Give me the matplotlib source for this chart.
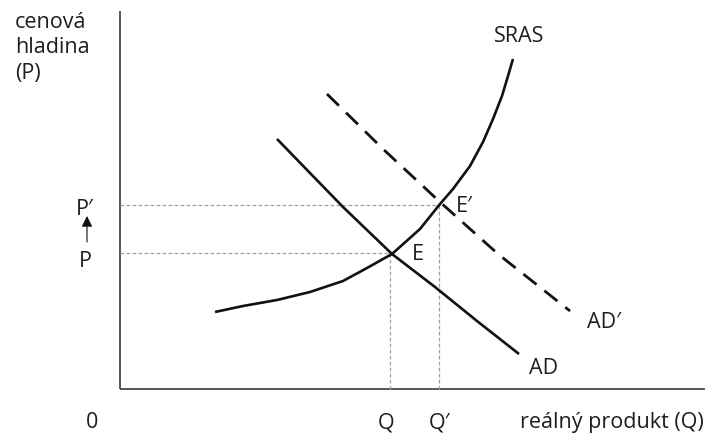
import matplotlib
matplotlib.use("Agg")
import matplotlib.pyplot as plt

plt.rcParams['font.family'] = ['Open Sans', 'DejaVu Sans']

# --- data (economic units) ---
sras_q = [9.5, 12.3, 15.7, 19.0, 22.3, 24.7, 27.2, 30.0, 32.0, 33.3, 35.0, 36.3, 37.3, 38.2, 38.8, 39.3]
sras_p = [7.7, 8.3, 8.9, 9.7, 10.8, 12.1, 13.5, 16.0, 18.5, 20.0, 22.3, 24.7, 27.0, 29.3, 31.3, 33.0]

ad_q = [15.7, 19.0, 22.3, 27.2, 31.5, 35.7, 39.9]
ad_p = [25.0, 21.6, 18.2, 13.5, 10.2, 6.8, 3.5]

ad2_q = [20.7, 26.3, 32.0, 37.8, 45.0]
ad2_p = [29.5, 24.0, 18.7, 13.5, 7.8]

eq_q = [27.0, 31.9]      # Q, Q'
eq_p = [13.6, 18.4]      # P, P'
eq_names = ['E', 'E′']
q_labels = ['Q', 'Q′']
p_labels = ['P', 'P′']

x_max, y_max = 58.5, 37.8

fig = plt.figure(figsize=(7.16, 4.39), dpi=100)
ax = fig.add_axes([0, 0, 1, 1])
ax.set_xlim(-12, 59.6)
ax.set_ylim(-4.9, 39.0)
ax.axis('off')

axc = '#3a3a3a'
ax.plot([0, 0], [0, y_max], color=axc, lw=1.2, solid_capstyle='butt')
ax.plot([0, x_max], [0, 0], color=axc, lw=1.2, solid_capstyle='butt')

guide = dict(color='#a0a0a0', lw=0.9, dashes=(3, 1.8))
for q, p in zip(eq_q, eq_p):
    ax.plot([0, q], [p, p], **guide)
    ax.plot([q, q], [0, p], **guide)

ax.plot(sras_q, sras_p, color='#111111', lw=1.9, solid_capstyle='butt', solid_joinstyle='round')
ax.plot(ad_q, ad_p, color='#111111', lw=1.9, solid_capstyle='butt', solid_joinstyle='round')
ax.plot(ad2_q, ad2_p, color='#111111', lw=2.0, dashes=(6, 3.6), dash_capstyle='butt')

fs = 15.5
tc = '#1e1e1e'
ax.text(-10.5, 37.8, 'cenová\nhladina\n(P)', ha='left', va='top', fontsize=fs,
        color=tc, linespacing=1.28)
ax.text(-2.8, -3.3, '0', ha='center', va='center', fontsize=fs, color=tc)
ax.text(eq_q[0] - 0.4, -3.3, q_labels[0], ha='center', va='center', fontsize=fs, color=tc)
ax.text(eq_q[1] + 0.1, -3.3, q_labels[1], ha='center', va='center', fontsize=fs, color=tc)
ax.text(40.0, -3.3, 'reálný produkt (Q)', ha='left', va='center', fontsize=fs, color=tc)
ax.text(-3.5, eq_p[0] - 0.8, p_labels[0], ha='center', va='center', fontsize=fs, color=tc)
ax.text(-3.5, eq_p[1] - 0.4, p_labels[1], ha='center', va='center', fontsize=fs, color=tc)
ax.annotate('', xy=(-3.3, 17.3), xytext=(-3.3, 14.7),
            arrowprops=dict(arrowstyle='-|>', color='#111111', lw=0.8,
                            mutation_scale=16, shrinkA=0, shrinkB=0))
ax.text(eq_q[0] + 2.2, eq_p[0] - 0.1, eq_names[0], ha='left', va='center', fontsize=fs, color=tc)
ax.text(eq_q[1] + 1.7, eq_p[1] - 0.1, eq_names[1], ha='left', va='center', fontsize=fs, color=tc)
ax.text(39.9, 35.3, 'SRAS', ha='center', va='center', fontsize=fs, color=tc)
ax.text(46.7, 6.7, 'AD′', ha='left', va='center', fontsize=fs, color=tc)
ax.text(40.9, 2.1, 'AD', ha='left', va='center', fontsize=fs, color=tc)

fig.savefig('out.png', dpi=100)
